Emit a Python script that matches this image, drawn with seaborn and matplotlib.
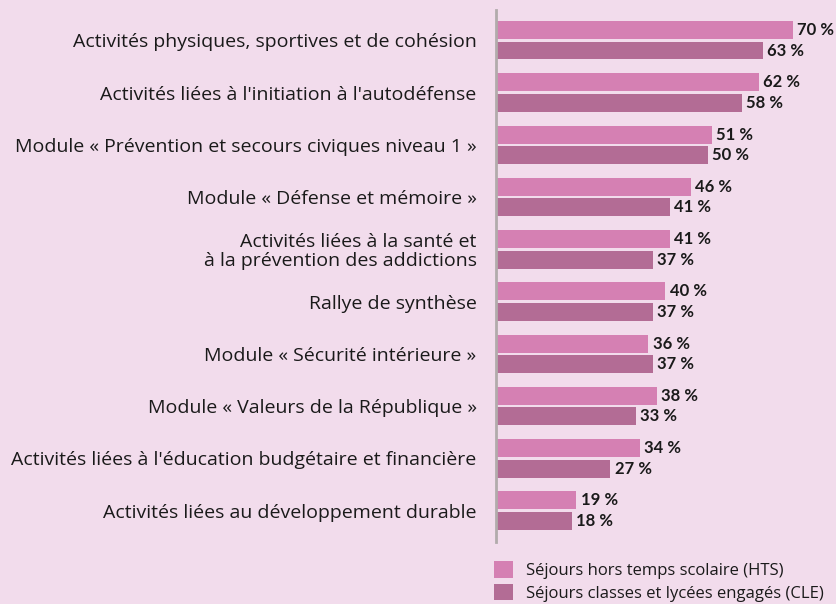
import matplotlib
matplotlib.use("Agg")
import matplotlib.pyplot as plt
import seaborn as sns
import pandas as pd
from matplotlib.patches import Patch

categories = [
    "Activités physiques, sportives et de cohésion",
    "Activités liées à l'initiation à l'autodéfense",
    "Module « Prévention et secours civiques niveau 1 »",
    "Module « Défense et mémoire »",
    "Activités liées à la santé et\nà la prévention des addictions",
    "Rallye de synthèse",
    "Module « Sécurité intérieure »",
    "Module « Valeurs de la République »",
    "Activités liées à l'éducation budgétaire et financière",
    "Activités liées au développement durable",
]
hts = [70, 62, 51, 46, 41, 40, 36, 38, 34, 19]
cle = [63, 58, 50, 41, 37, 37, 37, 33, 27, 18]
series = ["Séjours hors temps scolaire (HTS)", "Séjours classes et lycées engagés (CLE)"]

BG = "#F2DCEC"
C_HTS = "#D580B3"
C_CLE = "#B36C95"

df = pd.DataFrame({
    "cat": categories * 2,
    "val": hts + cle,
    "serie": [series[0]] * len(categories) + [series[1]] * len(categories),
})

sns.set_theme(style="white")
plt.rcParams["font.family"] = ["Open Sans", "DejaVu Sans"]

fig = plt.figure(figsize=(8.37, 6.04), dpi=100, facecolor=BG)
ax = fig.add_axes([496 / 837, 1 - 542 / 604, 1 - 496 / 837, (542 - 10) / 604])
ax.set_facecolor(BG)

sns.barplot(data=df, x="val", y="cat", hue="serie", orient="h",
            palette=[C_HTS, C_CLE], width=0.78, gap=0.12, saturation=1,
            linewidth=0, legend=False, ax=ax)

ax.set_xlim(0, 80.5)
ax.set_ylim(9.6, -0.58)
ax.set_xlabel("")
ax.set_ylabel("")
ax.set_xticks([])
for s in ["top", "right", "bottom"]:
    ax.spines[s].set_visible(False)
ax.spines["left"].set_color("#B2ABAB")
ax.spines["left"].set_linewidth(2)
ax.tick_params(axis="y", length=0, pad=14)
for lab in ax.get_yticklabels():
    lab.set_fontsize(14)
    lab.set_color("#1a1a1a")
    lab.set_horizontalalignment("right")
    lab.set_multialignment("right")
    lab.set_linespacing(1.05)

for cont in ax.containers:
    labels = [f"{int(round(b.get_width()))}\u202f%" for b in cont]
    ax.bar_label(cont, labels=labels, padding=3, fontsize=12, fontweight="bold",
                 color="#1a1a1a", family=["Lato", "DejaVu Sans"])

handles = [Patch(facecolor=C_HTS, edgecolor="none"), Patch(facecolor=C_CLE, edgecolor="none")]
leg = fig.legend(handles, series, loc="upper left", bbox_to_anchor=(494 / 837, 1 - 561 / 604),
                 frameon=False, fontsize=12, handlelength=1.15, handleheight=1.15,
                 handletextpad=0.75, labelspacing=0.3, borderaxespad=0, borderpad=0)
for t in leg.get_texts():
    t.set_color("#1a1a1a")

fig.savefig("out.png", dpi=100, facecolor=BG)
